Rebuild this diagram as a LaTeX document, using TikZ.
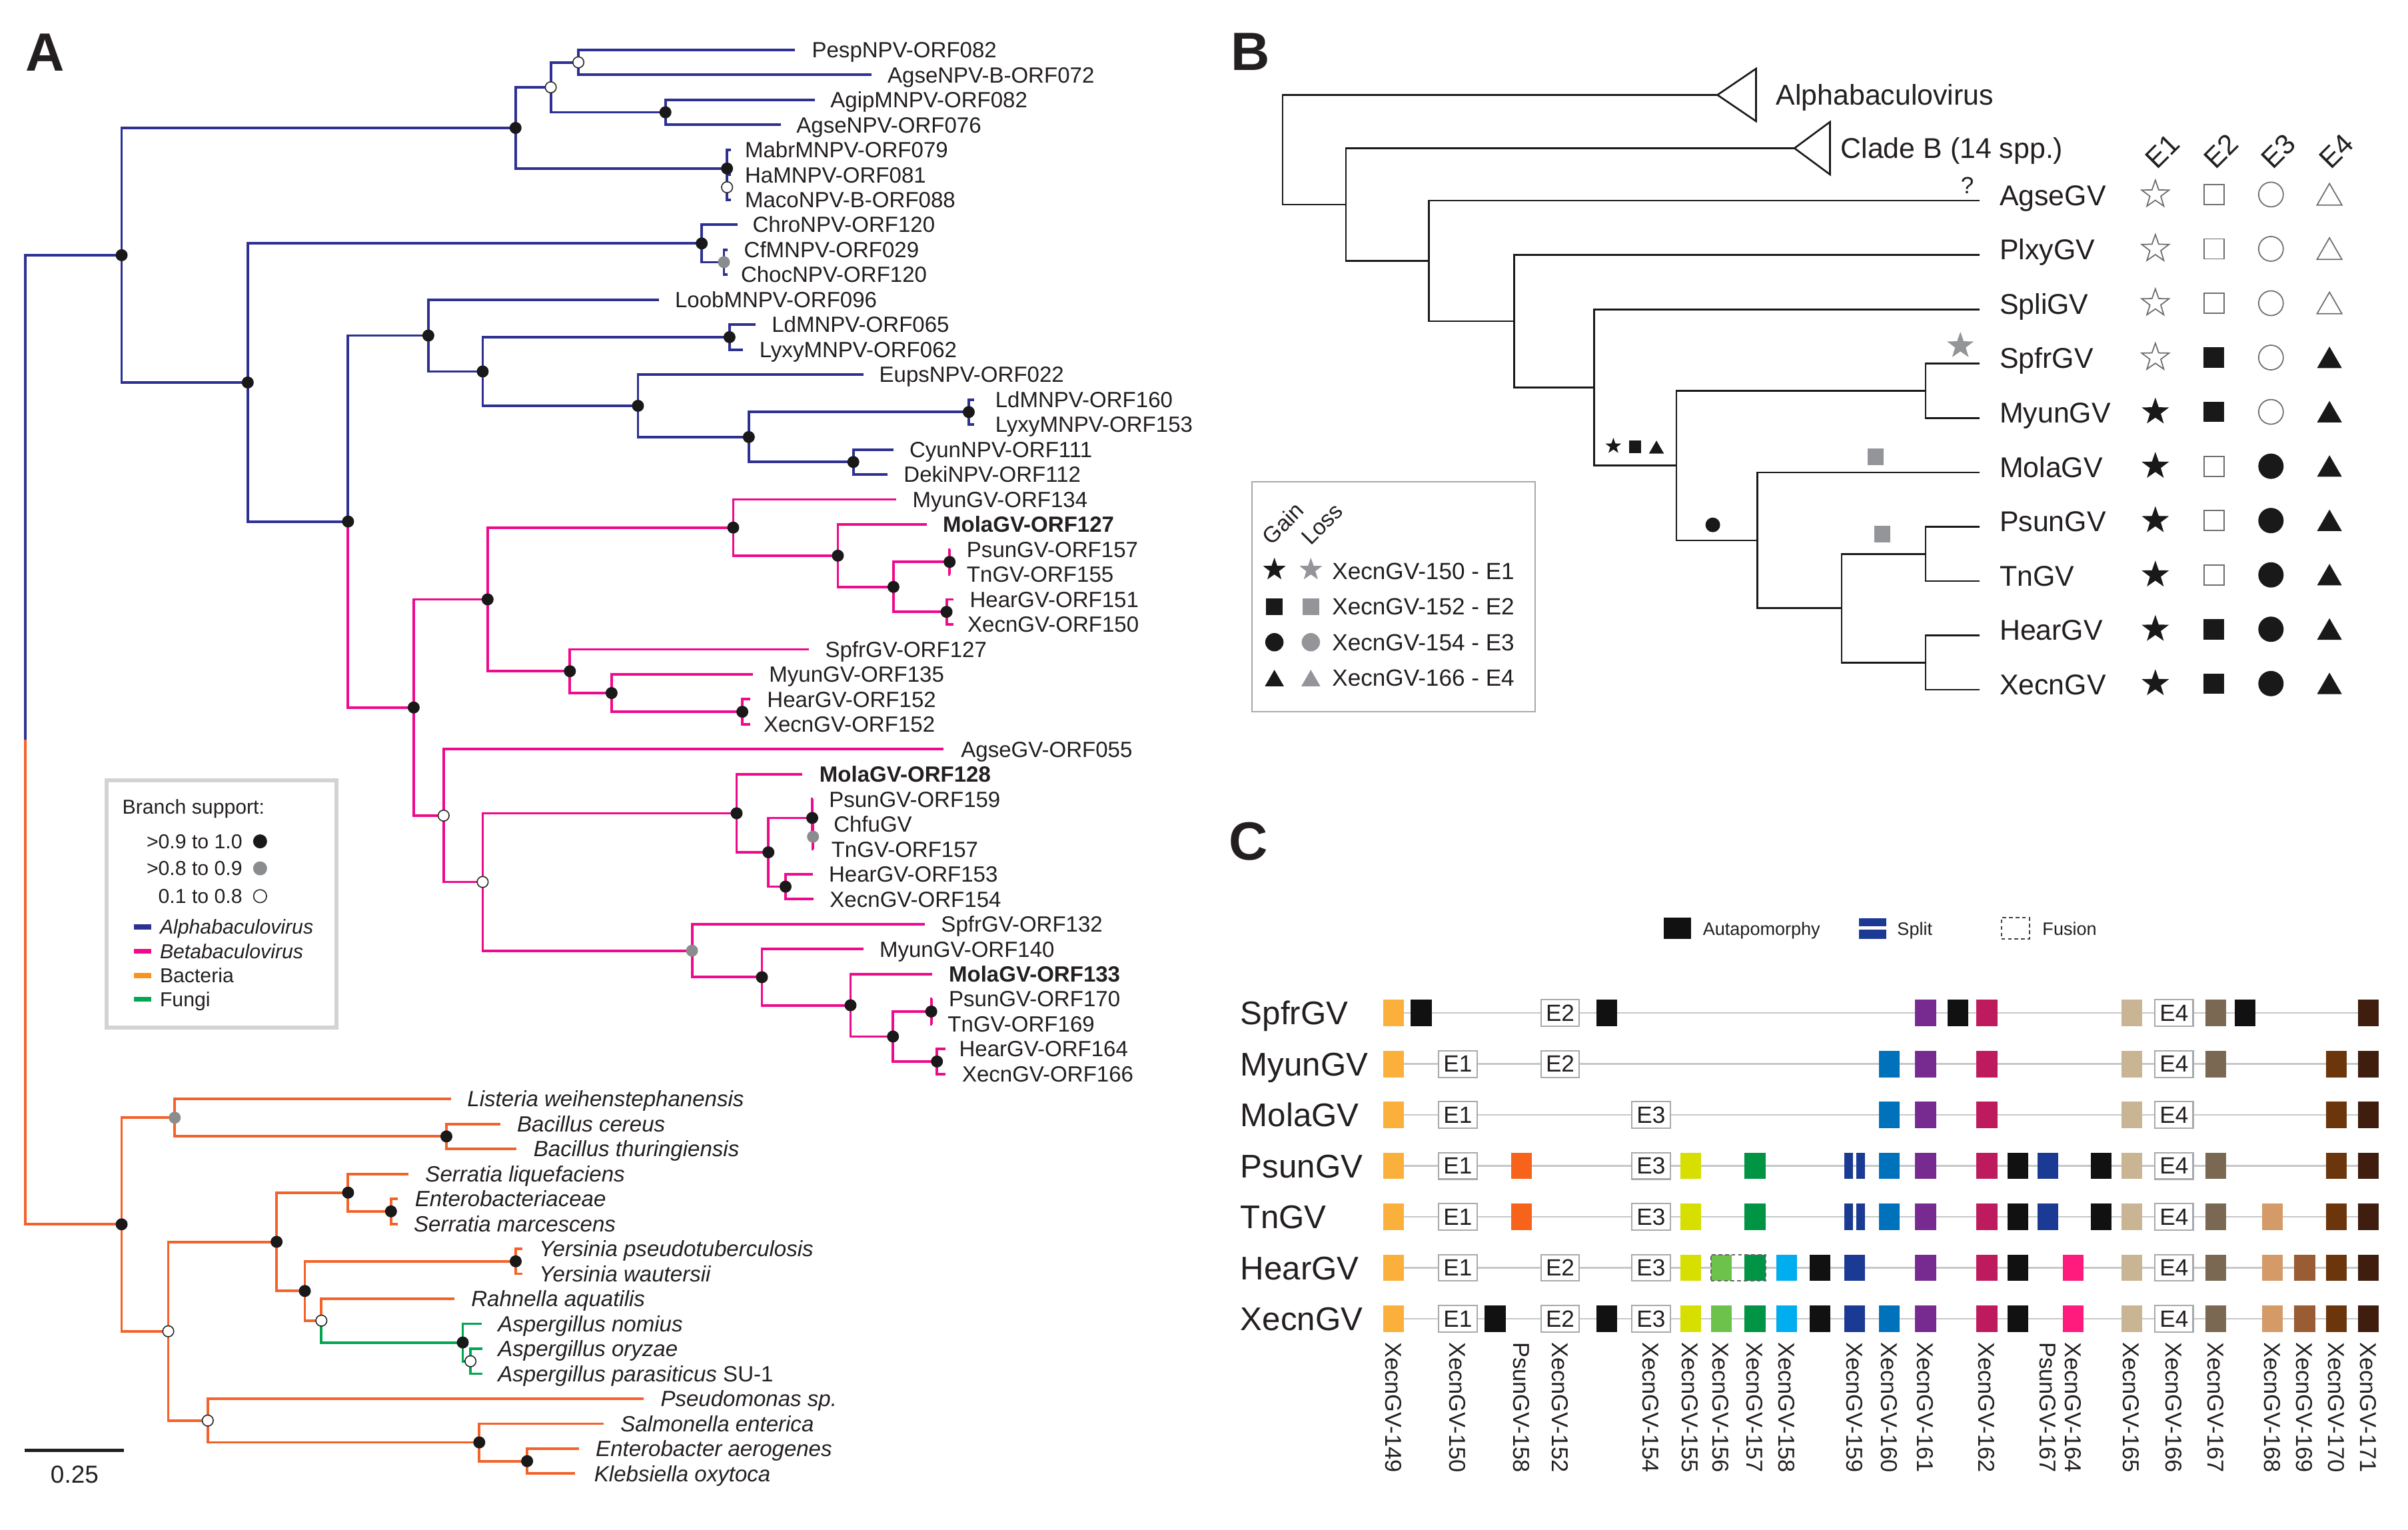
\documentclass[tikz,border=0pt]{standalone}
\usepackage{fontspec}
\setmainfont{Liberation Sans}
\usetikzlibrary{shapes.geometric}
\definecolor{txt}{HTML}{231F20}
\definecolor{cBlue}{HTML}{2E3192}
\definecolor{cPink}{HTML}{EE0A8C}
\definecolor{cOrg}{HTML}{F4622A}
\definecolor{cGrn}{HTML}{00A651}
\definecolor{cLegOrg}{HTML}{F7941D}
\definecolor{cGray}{HTML}{8A8C8E}
\definecolor{legbox}{HTML}{D1D3D4}
\definecolor{symg}{HTML}{6D6E71}
\definecolor{lossg}{HTML}{939598}
\definecolor{lineg}{HTML}{C7C8CA}
\definecolor{boxg}{HTML}{A7A9AC}
\definecolor{k149}{HTML}{FBB03B}
\definecolor{k158p}{HTML}{F7631B}
\definecolor{k155}{HTML}{D7DF00}
\definecolor{k156}{HTML}{6CC24A}
\definecolor{k157}{HTML}{009444}
\definecolor{k158}{HTML}{00AEEF}
\definecolor{k159}{HTML}{1B3A93}
\definecolor{k160}{HTML}{0072BC}
\definecolor{k161}{HTML}{772B90}
\definecolor{k162}{HTML}{BE1B5E}
\definecolor{k164}{HTML}{FF1A7E}
\definecolor{k165}{HTML}{C9B593}
\definecolor{k167}{HTML}{7B6852}
\definecolor{k168}{HTML}{D49A68}
\definecolor{k169}{HTML}{9A5C35}
\definecolor{k170}{HTML}{6B360C}
\definecolor{k171}{HTML}{3F1E0F}
\definecolor{kblk}{HTML}{111111}
\tikzset{
 tl/.style={font=\fontsize{9.4}{11}\selectfont, anchor=base west, yshift=-3.35pt},
 lgt/.style={font=\fontsize{8.6}{10}\selectfont, yshift=-3.05pt},
 bl/.style={cBlue, line width=1.1pt},
 pk/.style={cPink, line width=1.1pt},
 og/.style={cOrg, line width=1.1pt},
 gn/.style={cGrn, line width=1.1pt},
 fd/.style={circle, fill=black!90, minimum size=1.8mm},
 od/.style={circle, fill=white, draw=black!85, line width=0.45pt, minimum size=1.65mm},
 gd/.style={circle, fill=cGray, minimum size=1.8mm},
 bt/.style={line width=0.75pt, black!90},
 blab/.style={font=\fontsize{12.2}{14}\selectfont, anchor=base west, yshift=-4.35pt},
 blg/.style={font=\fontsize{10}{12}\selectfont, anchor=base west, yshift=-3.55pt},
 ostar/.style={star, star points=5, star point ratio=2.5, draw=symg, fill=white, line width=0.5pt, minimum size=4.3mm},
 fstar/.style={star, star points=5, star point ratio=2.5, fill=black!90, minimum size=4.3mm},
 osq/.style={rectangle, draw=symg, fill=white, line width=0.5pt, minimum size=3mm},
 fsq/.style={rectangle, fill=black!90, minimum size=3.05mm},
 ocir/.style={circle, draw=symg, fill=white, line width=0.5pt, minimum size=3.7mm},
 fcir/.style={circle, fill=black!90, minimum size=3.8mm},
 otri/.style={regular polygon, regular polygon sides=3, draw=symg, fill=white, line width=0.5pt, minimum size=4.3mm, yshift=-0.5mm},
 ftri/.style={regular polygon, regular polygon sides=3, fill=black!90, minimum size=4.3mm, yshift=-0.5mm},
 stri/.style={regular polygon, regular polygon sides=3, fill=black!90, minimum size=2.6mm},
 sqc/.style={rectangle, minimum width=3.13mm, minimum height=3.98mm},
 ebox/.style={rectangle, draw=boxg, fill=white, line width=0.6pt, minimum width=5.74mm, minimum height=3.98mm, font=\fontsize{10}{12}\selectfont},
 rowl/.style={line width=0.7pt, lineg},
 rlab/.style={font=\fontsize{14}{16}\selectfont, anchor=base west, yshift=-5pt},
 vl/.style={font=\fontsize{9.8}{11}\selectfont, rotate=-90, anchor=base west},
 clg/.style={font=\fontsize{7.7}{9}\selectfont, anchor=base west, yshift=-2.75pt},
 plet/.style={font=\fontsize{23}{26}\selectfont\bfseries, anchor=base west},
}
\newcommand{\tnode}[3]{\coordinate (#1) at (#2,#3);}
\newcommand{\tleaf}[5]{\coordinate (#1) at (#3,#2);\node[tl] (#1t) at (#4,#2) {#5};}
\newcommand{\tedge}[3]{\draw[#1] (#2) |- (#3);}
\newcommand{\tmark}[2]{\node[#1] (#2m) at (#2) {};}
\newcommand{\brow}[6]{\node[#3] (Bs#1a) at (1396.3,#2) {};\node[#4] (Bs#1b) at (1434.2,#2) {};\node[#5] (Bs#1c) at (1471.2,#2) {};\node[#6] (Bs#1d) at (1509.1,#2) {};}
\newcommand{\csqr}[3]{\node[sqc, fill=#1] (\Cname-#2) at (#3,\Cy) {};}
\newcommand{\cebox}[3]{\node[ebox] (\Cname-#2) at (#3,\Cy) {#1};}
\newcommand{\csplitbar}{\node[sqc, fill=k159, minimum width=1.34mm] (\Cname-sa) at (1197.7,\Cy) {};\node[sqc, fill=k159, minimum width=1.3mm] (\Cname-sb) at (1205.4,\Cy) {};}
\newcommand{\crowline}[3]{\def\Cname{#1}\def\Cy{#2}\coordinate (#1a) at (902.8,#2);\coordinate (#1b) at (1534.4,#2);\draw[rowl] (#1a) -- (#1b);\node[rlab] (#1t) at (803.7,#2) {#3};}
\newcommand{\vlabel}[3]{\node[vl] (#1) at (#2-5.35,869.5) {#3};}
\begin{document}
\begin{tikzpicture}[x=0.23167mm,y=-0.23167mm, every node/.append style={inner sep=0pt, outer sep=0pt, text=txt}]
\useasboundingbox (0,0) rectangle (1560,991);
\fill[white] (0,0) rectangle (1560,991);
% ================= PANEL A =================
\node[plet] (pA) at (16.8,45.9) {A};
\begin{scope}[yshift=-7.483mm, y=-3.7484mm]
\tleaf{l0}{0}{514.8}{526}{PespNPV-ORF082}
\tleaf{l1}{1}{564.4}{575}{AgseNPV-B-ORF072}
\tleaf{l2}{2}{528}{538}{AgipMNPV-ORF082}
\tleaf{l3}{3}{505.7}{516}{AgseNPV-ORF076}
\tleaf{l4}{4}{473.5}{482.6}{MabrMNPV-ORF079}
\tleaf{l5}{5}{473.5}{482.6}{HaMNPV-ORF081}
\tleaf{l6}{6}{473.5}{482.6}{MacoNPV-B-ORF088}
\tleaf{l7}{7}{477.7}{487.6}{ChroNPV-ORF120}
\tleaf{l8}{8}{471.5}{482}{CfMNPV-ORF029}
\tleaf{l9}{9}{471.5}{480}{ChocNPV-ORF120}
\tleaf{l10}{10}{427}{437.3}{LoobMNPV-ORF096}
\tleaf{l11}{11}{489.5}{500}{LdMNPV-ORF065}
\tleaf{l12}{12}{481.3}{492}{LyxyMNPV-ORF062}
\tleaf{l13}{13}{559.4}{569.6}{EupsNPV-ORF022}
\tleaf{l14}{14}{631}{644.8}{LdMNPV-ORF160}
\tleaf{l15}{15}{631}{644.8}{LyxyMNPV-ORF153}
\tleaf{l16}{16}{578.8}{589.2}{CyunNPV-ORF111}
\tleaf{l17}{17}{574.8}{585.5}{DekiNPV-ORF112}
\tleaf{l18}{18}{580.5}{591.2}{MyunGV-ORF134}
\tleaf{l19}{19}{600.3}{610.8}{\bfseries MolaGV-ORF127}
\tleaf{l20}{20}{615.4}{626.3}{PsunGV-ORF157}
\tleaf{l21}{21}{615.4}{626.3}{TnGV-ORF155}
\tleaf{l22}{22}{617.7}{628.3}{HearGV-ORF151}
\tleaf{l23}{23}{617.7}{626.8}{XecnGV-ORF150}
\tleaf{l24}{24}{524.2}{534.6}{SpfrGV-ORF127}
\tleaf{l25}{25}{487.6}{498.3}{MyunGV-ORF135}
\tleaf{l26}{26}{486}{497}{HearGV-ORF152}
\tleaf{l27}{27}{486}{494.7}{XecnGV-ORF152}
\tleaf{l28}{28}{611.4}{622.6}{AgseGV-ORF055}
\tleaf{l29}{29}{519.8}{530.9}{\bfseries MolaGV-ORF128}
\tleaf{l30}{30}{526.4}{537.1}{PsunGV-ORF159}
\tleaf{l31}{31}{527}{540.1}{ChfuGV}
\tleaf{l32}{32}{527}{538.6}{TnGV-ORF157}
\tleaf{l33}{33}{526.5}{537}{HearGV-ORF153}
\tleaf{l34}{34}{527.2}{537.6}{XecnGV-ORF154}
\tleaf{l35}{35}{599.1}{609.7}{SpfrGV-ORF132}
\tleaf{l36}{36}{559.4}{569.8}{MyunGV-ORF140}
\tleaf{l37}{37}{604}{614.7}{\bfseries MolaGV-ORF133}
\tleaf{l38}{38}{603.5}{614.7}{PsunGV-ORF170}
\tleaf{l39}{39}{603.5}{614}{TnGV-ORF169}
\tleaf{l40}{40}{612.7}{621.4}{HearGV-ORF164}
\tleaf{l41}{41}{612.7}{623.3}{XecnGV-ORF166}
\tleaf{l42}{42}{292.4}{302.8}{\itshape Listeria weihenstephanensis}
\tleaf{l43}{43}{324.1}{335}{\itshape Bacillus cereus}
\tleaf{l44}{44}{334.5}{345.7}{\itshape Bacillus thuringiensis}
\tleaf{l45}{45}{264.7}{275.6}{\itshape Serratia liquefaciens}
\tleaf{l46}{46}{257.7}{268.9}{\itshape Enterobacteriaceae}
\tleaf{l47}{47}{257.7}{268.1}{\itshape Serratia marcescens}
\tleaf{l48}{48}{338.3}{349.4}{\itshape Yersinia pseudotuberculosis}
\tleaf{l49}{49}{338.3}{349.4}{\itshape Yersinia wautersii}
\tleaf{l50}{50}{294.4}{305.3}{\itshape Rahnella aquatilis}
\tleaf{l51}{51}{312.2}{322.6}{\itshape Aspergillus nomius}
\tleaf{l52}{52}{312.7}{322.6}{\itshape Aspergillus oryzae}
\tleaf{l53}{53}{312.7}{322.6}{\textit{Aspergillus parasiticus} SU-1}
\tleaf{l54}{54}{417}{428}{\itshape Pseudomonas sp.}
\tleaf{l55}{55}{391}{402}{\itshape Salmonella enterica}
\tleaf{l56}{56}{374.9}{386}{\itshape Enterobacter aerogenes}
\tleaf{l57}{57}{372.4}{385}{\itshape Klebsiella oxytoca}
% internal nodes
\tnode{n1}{374.7}{0.5}\tnode{n2}{356.8}{1.5}\tnode{n3}{431.1}{2.5}
\tnode{n4}{471}{4.75}\tnode{n5}{471}{5.5}\tnode{n6}{334}{3.125}
\tnode{n7}{454.6}{7.75}\tnode{n8}{469}{8.5}\tnode{n9}{472.6}{11.5}
\tnode{n10}{627.6}{14.5}\tnode{n11}{552.8}{16.5}\tnode{n12}{485.1}{15.5}
\tnode{n13}{413.3}{14.25}\tnode{n14}{312.7}{12.875}\tnode{n15}{277.5}{11.4375}
\tnode{p1}{615.2}{20.5}\tnode{p2}{613.2}{22.5}\tnode{p3}{578.8}{21.5}
\tnode{p4}{542.8}{20.25}\tnode{p5}{475}{19.125}\tnode{p6}{480.9}{26.5}
\tnode{p7}{396.2}{25.75}\tnode{p8}{369.2}{24.875}\tnode{p9}{315.9}{22}
\tnode{p10}{526.7}{31.5}\tnode{p11}{526.2}{30.75}\tnode{p12}{508.9}{33.5}
\tnode{p13}{497.8}{32.125}\tnode{p14}{477.2}{30.5625}\tnode{p15}{603.3}{38.5}
\tnode{p16}{607}{40.5}\tnode{p17}{578.5}{39.5}\tnode{p18}{551}{38.25}
\tnode{p19}{493.6}{37.125}\tnode{p20}{448.3}{36.0625}\tnode{p21}{312.7}{33.3125}
\tnode{p22}{287.4}{30.656}\tnode{p23}{268}{26.328}
\tnode{m1}{225.5}{18.883}\tnode{m2}{160.5}{13.316}\tnode{m3}{78.8}{8.22}
\tnode{b1}{289.2}{43.5}\tnode{b2}{113.2}{42.75}\tnode{b3}{253.3}{46.5}
\tnode{b4}{225.5}{45.75}\tnode{b5}{334.1}{48.5}\tnode{g1}{304.8}{52.5}
\tnode{g2}{299.8}{51.75}\tnode{b6}{208.2}{50.875}\tnode{b7}{197.5}{49.6875}
\tnode{b8}{179.2}{47.72}\tnode{b9}{341.5}{56.5}\tnode{b10}{310.5}{55.75}
\tnode{b11}{134.6}{54.875}\tnode{b12}{109}{51.3}\tnode{b13}{78.8}{47.02}
\tnode{root}{16.4}{27.62}
% edges
\tedge{bl}{n1}{l0}\tedge{bl}{n1}{l1}\tedge{bl}{n2}{n1}\tedge{bl}{n2}{n3}
\tedge{bl}{n3}{l2}\tedge{bl}{n3}{l3}\tedge{bl}{n5}{l5}\tedge{bl}{n5}{l6}
\tedge{bl}{n4}{l4}\tedge{bl}{n4}{n5}\tedge{bl}{n6}{n2}\tedge{bl}{n6}{n4}
\tedge{bl}{n8}{l8}\tedge{bl}{n8}{l9}\tedge{bl}{n7}{l7}\tedge{bl}{n7}{n8}
\tedge{bl}{n9}{l11}\tedge{bl}{n9}{l12}\tedge{bl}{n10}{l14}\tedge{bl}{n10}{l15}
\tedge{bl}{n11}{l16}\tedge{bl}{n11}{l17}\tedge{bl}{n12}{n10}\tedge{bl}{n12}{n11}
\tedge{bl}{n13}{l13}\tedge{bl}{n13}{n12}\tedge{bl}{n14}{n9}\tedge{bl}{n14}{n13}
\tedge{bl}{n15}{l10}\tedge{bl}{n15}{n14}
\tedge{bl}{m1}{n15}\tedge{pk}{m1}{p23}\tedge{bl}{m2}{n7}\tedge{bl}{m2}{m1}
\tedge{bl}{m3}{n6}\tedge{bl}{m3}{m2}\tedge{bl}{root}{m3}\tedge{og}{root}{b13}
\tedge{pk}{p1}{l20}\tedge{pk}{p1}{l21}\tedge{pk}{p2}{l22}\tedge{pk}{p2}{l23}
\tedge{pk}{p3}{p1}\tedge{pk}{p3}{p2}\tedge{pk}{p4}{l19}\tedge{pk}{p4}{p3}
\tedge{pk}{p5}{l18}\tedge{pk}{p5}{p4}\tedge{pk}{p6}{l26}\tedge{pk}{p6}{l27}
\tedge{pk}{p7}{l25}\tedge{pk}{p7}{p6}\tedge{pk}{p8}{l24}\tedge{pk}{p8}{p7}
\tedge{pk}{p9}{p5}\tedge{pk}{p9}{p8}\tedge{pk}{p10}{l31}\tedge{pk}{p10}{l32}
\tedge{pk}{p11}{l30}\tedge{pk}{p11}{p10}\tedge{pk}{p12}{l33}\tedge{pk}{p12}{l34}
\tedge{pk}{p13}{p11}\tedge{pk}{p13}{p12}\tedge{pk}{p14}{l29}\tedge{pk}{p14}{p13}
\tedge{pk}{p15}{l38}\tedge{pk}{p15}{l39}\tedge{pk}{p16}{l40}\tedge{pk}{p16}{l41}
\tedge{pk}{p17}{p15}\tedge{pk}{p17}{p16}\tedge{pk}{p18}{l37}\tedge{pk}{p18}{p17}
\tedge{pk}{p19}{l36}\tedge{pk}{p19}{p18}\tedge{pk}{p20}{l35}\tedge{pk}{p20}{p19}
\tedge{pk}{p21}{p14}\tedge{pk}{p21}{p20}\tedge{pk}{p22}{l28}\tedge{pk}{p22}{p21}
\tedge{pk}{p23}{p9}\tedge{pk}{p23}{p22}
\tedge{og}{b1}{l43}\tedge{og}{b1}{l44}\tedge{og}{b2}{l42}\tedge{og}{b2}{b1}
\tedge{og}{b3}{l46}\tedge{og}{b3}{l47}\tedge{og}{b4}{l45}\tedge{og}{b4}{b3}
\tedge{og}{b5}{l48}\tedge{og}{b5}{l49}\tedge{gn}{g1}{l52}\tedge{gn}{g1}{l53}
\tedge{gn}{g2}{l51}\tedge{gn}{g2}{g1}\tedge{og}{b6}{l50}\tedge{gn}{b6}{g2}
\tedge{og}{b7}{b5}\tedge{og}{b7}{b6}\tedge{og}{b8}{b4}\tedge{og}{b8}{b7}
\tedge{og}{b9}{l56}\tedge{og}{b9}{l57}\tedge{og}{b10}{l55}\tedge{og}{b10}{b9}
\tedge{og}{b11}{l54}\tedge{og}{b11}{b10}\tedge{og}{b12}{b8}\tedge{og}{b12}{b11}
\tedge{og}{b13}{b2}\tedge{og}{b13}{b12}
% markers
\tmark{od}{n1}\tmark{od}{n2}\tmark{fd}{n3}\tmark{fd}{n4}\tmark{od}{n5}\tmark{fd}{n6}
\tmark{fd}{n7}\tmark{gd}{n8}\tmark{fd}{n9}\tmark{fd}{n10}\tmark{fd}{n11}\tmark{fd}{n12}
\tmark{fd}{n13}\tmark{fd}{n14}\tmark{fd}{n15}
\tmark{fd}{p1}\tmark{fd}{p2}\tmark{fd}{p3}\tmark{fd}{p4}\tmark{fd}{p5}\tmark{fd}{p6}
\tmark{fd}{p7}\tmark{fd}{p8}\tmark{fd}{p9}\tmark{gd}{p10}\tmark{fd}{p11}\tmark{fd}{p12}
\tmark{fd}{p13}\tmark{fd}{p14}\tmark{fd}{p15}\tmark{fd}{p16}\tmark{fd}{p17}\tmark{fd}{p18}
\tmark{fd}{p19}\tmark{gd}{p20}\tmark{od}{p21}\tmark{od}{p22}\tmark{fd}{p23}
\tmark{fd}{m1}\tmark{fd}{m2}\tmark{fd}{m3}
\tmark{fd}{b1}\tmark{gd}{b2}\tmark{fd}{b3}\tmark{fd}{b4}\tmark{fd}{b5}\tmark{od}{g1}
\tmark{fd}{g2}\tmark{od}{b6}\tmark{fd}{b7}\tmark{fd}{b8}\tmark{fd}{b9}\tmark{fd}{b10}
\tmark{od}{b11}\tmark{od}{b12}\tmark{fd}{b13}
\end{scope}
% legend A
\draw[legbox, line width=1.6pt] (69,505.5) rectangle (218,665.5);
\node[lgt, anchor=base west] (bsup) at (79.3,522.7) {Branch support:};
\node[lgt, anchor=base east] (s1) at (157,545) {>0.9 to 1.0};
\node[fd, minimum size=2.1mm] (s1m) at (168.5,545) {};
\node[lgt, anchor=base east] (s2) at (157,562.5) {>0.8 to 0.9};
\node[gd, minimum size=2.1mm] (s2m) at (168.5,562.5) {};
\node[lgt, anchor=base east] (s3) at (157,580.5) {0.1 to 0.8};
\node[od, minimum size=1.95mm] (s3m) at (168.5,580.5) {};
\fill[cBlue] (86.7,598.8) rectangle (97.9,602);
\fill[cPink] (86.7,614.5) rectangle (97.9,617.7);
\fill[cLegOrg] (86.7,630.3) rectangle (97.9,633.5);
\fill[cGrn] (86.7,645.6) rectangle (97.9,648.8);
\node[lgt, anchor=base west] (la1) at (103.6,600.4) {\itshape Alphabaculovirus};
\node[lgt, anchor=base west] (la2) at (103.6,616.1) {\itshape Betabaculovirus};
\node[lgt, anchor=base west] (la3) at (103.6,631.9) {Bacteria};
\node[lgt, anchor=base west] (la4) at (103.6,647.2) {Fungi};
% scale bar
\coordinate (sb1) at (16.1,939.5);
\coordinate (sb2) at (80.5,939.5);
\draw[line width=1.3pt, txt] (sb1) -- (sb2);
\node[font=\fontsize{10.5}{12}\selectfont] (sbt) at (48.3,955) {0.25};
% ================= PANEL B =================
\node[plet] (pB) at (797.3,45.4) {B};
\coordinate (Br) at (830.9,97);
\coordinate (Ba) at (1112.6,61.5);
\coordinate (Bc) at (1162.5,96);
\coordinate (B1) at (871.9,132.5);
\coordinate (B2) at (925.8,169);
\coordinate (B3) at (980.8,208.1);
\coordinate (B4) at (1032.7,251);
\coordinate (B5) at (1086.1,301.6);
\coordinate (B6) at (1247.4,253.2);
\coordinate (B7) at (1138.6,350);
\coordinate (B8) at (1193,394);
\coordinate (B9) at (1247.4,358.8);
\coordinate (B10) at (1247.4,429.2);
\coordinate (BL0) at (1282.4,130);
\coordinate (BL1) at (1282.4,165.2);
\coordinate (BL2) at (1282.4,200.4);
\coordinate (BL3) at (1282.4,235.6);
\coordinate (BL4) at (1282.4,270.8);
\coordinate (BL5) at (1282.4,306);
\coordinate (BL6) at (1282.4,341.2);
\coordinate (BL7) at (1282.4,376.4);
\coordinate (BL8) at (1282.4,411.6);
\coordinate (BL9) at (1282.4,446.8);
\draw[bt] (Br) |- (Ba); \draw[bt] (Br) |- (B1);
\draw[bt] (B1) |- (Bc); \draw[bt] (B1) |- (B2);
\draw[bt] (B2) |- (BL0); \draw[bt] (B2) |- (B3);
\draw[bt] (B3) |- (BL1); \draw[bt] (B3) |- (B4);
\draw[bt] (B4) |- (BL2); \draw[bt] (B4) |- (B5);
\draw[bt] (B5) |- (B6); \draw[bt] (B5) |- (B7);
\draw[bt] (B6) |- (BL3); \draw[bt] (B6) |- (BL4);
\draw[bt] (B7) |- (BL5); \draw[bt] (B7) |- (B8);
\draw[bt] (B8) |- (B9); \draw[bt] (B8) |- (B10);
\draw[bt] (B9) |- (BL6); \draw[bt] (B9) |- (BL7);
\draw[bt] (B10) |- (BL8); \draw[bt] (B10) |- (BL9);
\draw[bt, fill=white, line join=miter] (Ba) -- (1137.6,44.5) -- (1137.6,78.5) -- cycle;
\draw[bt, fill=white, line join=miter] (Bc) -- (1185.5,79) -- (1185.5,113) -- cycle;
\node[blab] (Bat) at (1150.6,61.5) {Alphabaculovirus};
\node[blab] (Bct) at (1192.5,96) {Clade B (14 spp.)};
\node[font=\fontsize{10}{12}\selectfont] (Bq) at (1274.5,120) {?};
\node[blab] (BL0t) at (1295.4,126.5) {AgseGV};
\node[blab] (BL1t) at (1295.4,161.7) {PlxyGV};
\node[blab] (BL2t) at (1295.4,196.9) {SpliGV};
\node[blab] (BL3t) at (1295.4,232.1) {SpfrGV};
\node[blab] (BL4t) at (1295.4,267.3) {MyunGV};
\node[blab] (BL5t) at (1295.4,302.5) {MolaGV};
\node[blab] (BL6t) at (1295.4,337.7) {PsunGV};
\node[blab] (BL7t) at (1295.4,372.9) {TnGV};
\node[blab] (BL8t) at (1295.4,408.1) {HearGV};
\node[blab] (BL9t) at (1295.4,443.3) {XecnGV};
\node[font=\fontsize{12}{14}\selectfont, rotate=45] (E1h) at (1400.8,98) {E1};
\node[font=\fontsize{12}{14}\selectfont, rotate=45] (E2h) at (1438.7,98) {E2};
\node[font=\fontsize{12}{14}\selectfont, rotate=45] (E3h) at (1476.2,98) {E3};
\node[font=\fontsize{12}{14}\selectfont, rotate=45] (E4h) at (1513.6,98) {E4};
\brow{0}{126}{ostar}{osq}{ocir}{otri}
\brow{1}{161.2}{ostar}{osq}{ocir}{otri}
\brow{2}{196.4}{ostar}{osq}{ocir}{otri}
\brow{3}{231.6}{ostar}{fsq}{ocir}{ftri}
\brow{4}{266.8}{fstar}{fsq}{ocir}{ftri}
\brow{5}{302}{fstar}{osq}{fcir}{ftri}
\brow{6}{337.2}{fstar}{osq}{fcir}{ftri}
\brow{7}{372.4}{fstar}{osq}{fcir}{ftri}
\brow{8}{407.6}{fstar}{fsq}{fcir}{ftri}
\brow{9}{442.8}{fstar}{fsq}{fcir}{ftri}
% gains / losses on tree
\node[fstar, minimum size=2.5mm] (gE1) at (1045.2,289) {};
\node[fsq, minimum size=1.85mm] (gE2) at (1059.2,289.5) {};
\node[stri] (gE4) at (1073.1,291) {};
\node[fcir, minimum size=2.2mm] (gE3) at (1109.6,340) {};
\node[fstar, fill=lossg, minimum size=4.2mm] (lE1) at (1270,224) {};
\node[fsq, fill=lossg, minimum size=2.45mm] (lE2a) at (1215,296) {};
\node[fsq, fill=lossg, minimum size=2.45mm] (lE2b) at (1219.5,346) {};
% legend B
\draw[draw=legbox!80!black, line width=0.6pt] (811,312) rectangle (994.5,461);
\node[font=\fontsize{9.6}{11}\selectfont, rotate=45] (gain) at (831,339) {Gain};
\node[font=\fontsize{9.6}{11}\selectfont, rotate=45] (loss) at (856.5,339.5) {Loss};
\node[fstar, minimum size=3.6mm] (LgS1) at (825.6,369) {};
\node[fstar, fill=lossg, minimum size=3.6mm] (LgS2) at (849.2,369) {};
\node[blg] (LgSt) at (863,370) {XecnGV-150 - E1};
\node[fsq, minimum size=2.55mm] (LgQ1) at (825.6,393) {};
\node[fsq, fill=lossg, minimum size=2.55mm] (LgQ2) at (849.2,393) {};
\node[blg] (LgQt) at (863,393) {XecnGV-152 - E2};
\node[fcir, minimum size=2.75mm] (LgC1) at (825.6,416) {};
\node[fcir, fill=lossg, minimum size=2.75mm] (LgC2) at (849.2,416) {};
\node[blg] (LgCt) at (863,416) {XecnGV-154 - E3};
\node[stri, minimum size=3.3mm] (LgT1) at (825.6,441) {};
\node[stri, fill=lossg, minimum size=3.3mm] (LgT2) at (849.2,441) {};
\node[blg] (LgTt) at (863,439) {XecnGV-166 - E4};
% ================= PANEL C =================
\node[plet] (pC) at (796.3,557) {C};
\node[rectangle, fill=kblk, minimum width=4.08mm, minimum height=3.15mm] (CLa) at (1086.7,601.3) {};
\node[clg] (CLat) at (1103.2,601.5) {Autapomorphy};
\node[rectangle, fill=k159, minimum width=4.08mm, minimum height=1.25mm] (CLs1) at (1213.2,597.4) {};
\node[rectangle, fill=k159, minimum width=4.08mm, minimum height=1.32mm] (CLs2) at (1213.2,605.2) {};
\node[clg] (CLst) at (1229.1,601.5) {Split};
\node[rectangle, draw=black!75, dash pattern=on 1.6pt off 1.2pt, line width=0.5pt, minimum width=4.2mm, minimum height=3.15mm] (CLf) at (1305.6,601.3) {};
\node[clg] (CLft) at (1323.2,601.5) {Fusion};
% row 0 SpfrGV
\crowline{R0}{656.2}{SpfrGV}
\csqr{k149}{149}{902.8}\csqr{kblk}{x1}{920.7}\cebox{E2}{e2}{1010.7}\csqr{kblk}{x3}{1041}
\csqr{k161}{161}{1247.5}\csqr{kblk}{x5}{1268.4}\csqr{k162}{162}{1287.2}\csqr{k165}{165}{1381}
\cebox{E4}{e4}{1408.4}\csqr{k167}{167}{1435.4}\csqr{kblk}{x8}{1454.5}\csqr{k171}{171}{1534.4}
% row 1 MyunGV
\crowline{R1}{689.2}{MyunGV}
\csqr{k149}{149}{902.8}\cebox{E1}{e1}{944.4}\cebox{E2}{e2}{1010.7}\csqr{k160}{160}{1224}
\csqr{k161}{161}{1247.5}\csqr{k162}{162}{1287.2}\csqr{k165}{165}{1381}\cebox{E4}{e4}{1408.4}
\csqr{k167}{167}{1435.4}\csqr{k170}{170}{1513.6}\csqr{k171}{171}{1534.4}
% row 2 MolaGV
\crowline{R2}{722.2}{MolaGV}
\csqr{k149}{149}{902.8}\cebox{E1}{e1}{944.4}\cebox{E3}{e3}{1069.6}\csqr{k160}{160}{1224}
\csqr{k161}{161}{1247.5}\csqr{k162}{162}{1287.2}\csqr{k165}{165}{1381}\cebox{E4}{e4}{1408.4}
\csqr{k170}{170}{1513.6}\csqr{k171}{171}{1534.4}
% row 3 PsunGV
\crowline{R3}{755.2}{PsunGV}
\csqr{k149}{149}{902.8}\cebox{E1}{e1}{944.4}\csqr{k158p}{p158}{985.8}\cebox{E3}{e3}{1069.6}
\csqr{k155}{155}{1095.2}\csqr{k157}{157}{1137}\csplitbar\csqr{k160}{160}{1224}
\csqr{k161}{161}{1247.5}\csqr{k162}{162}{1287.2}\csqr{kblk}{x6}{1307.2}\csqr{k159}{p167}{1326.7}
\csqr{kblk}{x7}{1361.3}\csqr{k165}{165}{1381}\cebox{E4}{e4}{1408.4}\csqr{k167}{167}{1435.4}
\csqr{k170}{170}{1513.6}\csqr{k171}{171}{1534.4}
% row 4 TnGV
\crowline{R4}{788.2}{TnGV}
\csqr{k149}{149}{902.8}\cebox{E1}{e1}{944.4}\csqr{k158p}{p158}{985.8}\cebox{E3}{e3}{1069.6}
\csqr{k155}{155}{1095.2}\csqr{k157}{157}{1137}\csplitbar\csqr{k160}{160}{1224}
\csqr{k161}{161}{1247.5}\csqr{k162}{162}{1287.2}\csqr{kblk}{x6}{1307.2}\csqr{k159}{p167}{1326.7}
\csqr{kblk}{x7}{1361.3}\csqr{k165}{165}{1381}\cebox{E4}{e4}{1408.4}\csqr{k167}{167}{1435.4}
\csqr{k168}{168}{1472.2}\csqr{k170}{170}{1513.6}\csqr{k171}{171}{1534.4}
% row 5 HearGV
\crowline{R5}{821.2}{HearGV}
\csqr{k149}{149}{902.8}\cebox{E1}{e1}{944.4}\cebox{E2}{e2}{1010.7}\cebox{E3}{e3}{1069.6}
\csqr{k155}{155}{1095.2}\csqr{k156}{156}{1115.1}\csqr{k157}{157}{1137}
\node[rectangle, draw=black!60, dash pattern=on 1.6pt off 1.2pt, line width=0.6pt, minimum width=8.2mm, minimum height=3.98mm] (R5-fus) at (1126.1,821.2) {};
\csqr{k158}{158}{1157.6}\csqr{kblk}{x4}{1179}\csqr{k159}{159}{1201.5}
\csqr{k161}{161}{1247.5}\csqr{k162}{162}{1287.2}\csqr{kblk}{x6}{1307.2}\csqr{k164}{164}{1343.2}
\csqr{k165}{165}{1381}\cebox{E4}{e4}{1408.4}\csqr{k167}{167}{1435.4}\csqr{k168}{168}{1472.2}
\csqr{k169}{169}{1493.1}\csqr{k170}{170}{1513.6}\csqr{k171}{171}{1534.4}
% row 6 XecnGV
\crowline{R6}{854.2}{XecnGV}
\csqr{k149}{149}{902.8}\cebox{E1}{e1}{944.4}\csqr{kblk}{x2}{968.6}\cebox{E2}{e2}{1010.7}
\csqr{kblk}{x3}{1041}\cebox{E3}{e3}{1069.6}\csqr{k155}{155}{1095.2}\csqr{k156}{156}{1115.1}
\csqr{k157}{157}{1137}\csqr{k158}{158}{1157.6}\csqr{kblk}{x4}{1179}\csqr{k159}{159}{1201.5}
\csqr{k160}{160}{1224}\csqr{k161}{161}{1247.5}\csqr{k162}{162}{1287.2}\csqr{kblk}{x6}{1307.2}
\csqr{k164}{164}{1343.2}\csqr{k165}{165}{1381}\cebox{E4}{e4}{1408.4}\csqr{k167}{167}{1435.4}
\csqr{k168}{168}{1472.2}\csqr{k169}{169}{1493.1}\csqr{k170}{170}{1513.6}\csqr{k171}{171}{1534.4}
% vertical labels
\vlabel{v149}{902.8}{XecnGV-149}
\vlabel{v150}{944.4}{XecnGV-150}
\vlabel{vp158}{985.8}{PsunGV-158}
\vlabel{v152}{1010.7}{XecnGV-152}
\vlabel{v154}{1069.6}{XecnGV-154}
\vlabel{v155}{1095.2}{XecnGV-155}
\vlabel{v156}{1115.1}{XecnGV-156}
\vlabel{v157}{1137}{XecnGV-157}
\vlabel{v158}{1157.6}{XecnGV-158}
\vlabel{v159}{1201.5}{XecnGV-159}
\vlabel{v160}{1224}{XecnGV-160}
\vlabel{v161}{1247.5}{XecnGV-161}
\vlabel{v162}{1287.2}{XecnGV-162}
\vlabel{vp167}{1326.7}{PsunGV-167}
\vlabel{v164}{1343.2}{XecnGV-164}
\vlabel{v165}{1381}{XecnGV-165}
\vlabel{v166}{1408.4}{XecnGV-166}
\vlabel{v167}{1435.4}{XecnGV-167}
\vlabel{v168}{1472.2}{XecnGV-168}
\vlabel{v169}{1493.1}{XecnGV-169}
\vlabel{v170}{1513.6}{XecnGV-170}
\vlabel{v171}{1534.4}{XecnGV-171}
\end{tikzpicture}
\end{document}
